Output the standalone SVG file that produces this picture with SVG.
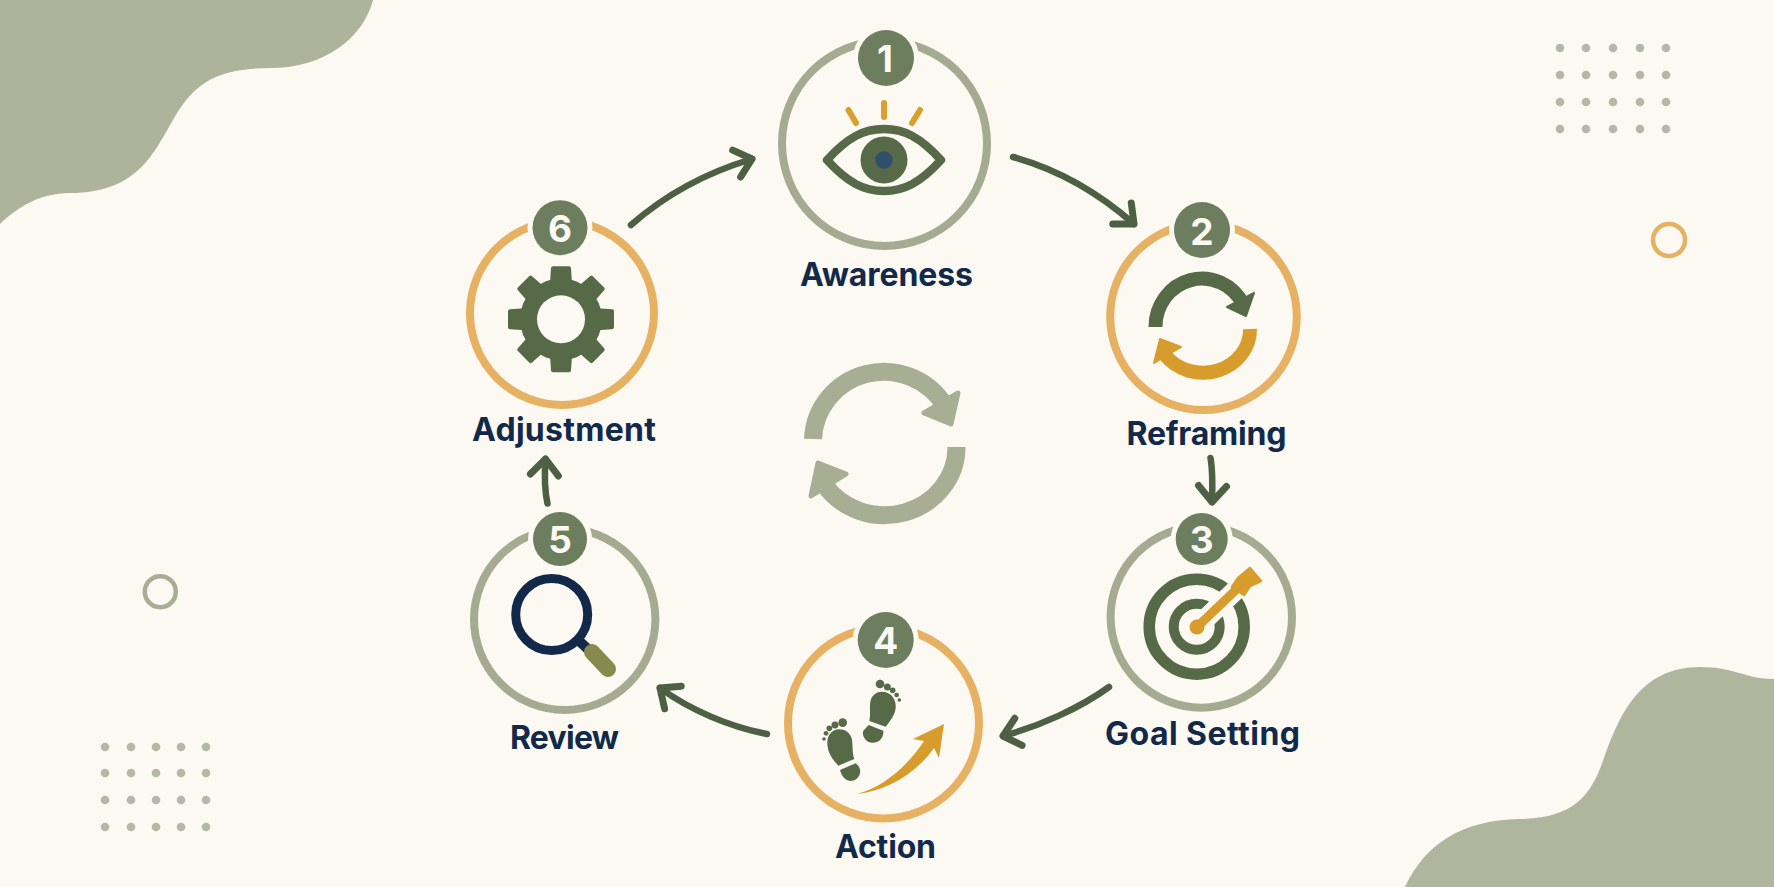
<svg xmlns="http://www.w3.org/2000/svg" width="1774" height="887" viewBox="0 0 1774 887">
<style>
.ring{fill:none;stroke-width:8}
.sage{stroke:#a5ab91}
.amber{stroke:#e6b162}
.halo{fill:#fcf9f3}
.badge{fill:#6c7e5d}
.num{font-family:"Inter","Liberation Sans",sans-serif;font-weight:700;font-size:37px;fill:#fbf9f3;text-anchor:middle}
.label{font-family:"Inter","Liberation Sans",sans-serif;font-weight:700;font-size:32px;fill:#12294a;text-anchor:middle}
.g{fill:#566a48}
.o{fill:#d79c2b}
.dot{fill:#b4b8a6}
.conn{fill:none;stroke:#4e6044;stroke-width:6.5;stroke-linecap:round;marker-end:url(#head)}
.bigarc{fill:none;stroke:#a7ae93;stroke-width:18}
.bighead{fill:#a7ae93;stroke:#a7ae93;stroke-width:5;stroke-linejoin:round}
</style>
<defs>
<marker id="head" markerUnits="userSpaceOnUse" markerWidth="50" markerHeight="50" viewBox="-30 -25 50 50" refX="0" refY="0" orient="auto">
<path d="M-16 -14L0 0L-16 14" fill="none" stroke="#4e6044" stroke-width="7" stroke-linecap="round" stroke-linejoin="round"/>
</marker>
<path id="tooth" d="M-11 -36L-10 -51Q-10 -53 -8 -53H8Q10 -53 10 -51L11 -36Z"/>
</defs>
<rect width="1774" height="887" fill="#fcf9f3"/>
<g id="background">
<path d="M0 0H373C363 38 325 68 270 68C215 68 195 85 177 113C155 150 140 193 70 193C40 193 18 207 0 224Z" fill="#aeb39c"/>
<path d="M1774 887V679C1745 679 1735 667 1700 667C1640 667 1620 715 1605 755C1592 795 1575 818 1520 819C1460 820 1425 845 1405 887Z" fill="#b0b59e"/>
<g class="dot">
<circle cx="1560" cy="48" r="4.3"/><circle cx="1586" cy="48" r="4.3"/><circle cx="1613" cy="48" r="4.3"/><circle cx="1640" cy="48" r="4.3"/><circle cx="1666" cy="48" r="4.3"/>
<circle cx="1560" cy="75" r="4.3"/><circle cx="1586" cy="75" r="4.3"/><circle cx="1613" cy="75" r="4.3"/><circle cx="1640" cy="75" r="4.3"/><circle cx="1666" cy="75" r="4.3"/>
<circle cx="1560" cy="102" r="4.3"/><circle cx="1586" cy="102" r="4.3"/><circle cx="1613" cy="102" r="4.3"/><circle cx="1640" cy="102" r="4.3"/><circle cx="1666" cy="102" r="4.3"/>
<circle cx="1560" cy="129" r="4.3"/><circle cx="1586" cy="129" r="4.3"/><circle cx="1613" cy="129" r="4.3"/><circle cx="1640" cy="129" r="4.3"/><circle cx="1666" cy="129" r="4.3"/>
<circle cx="105" cy="747" r="4.3"/><circle cx="131" cy="747" r="4.3"/><circle cx="156" cy="747" r="4.3"/><circle cx="181" cy="747" r="4.3"/><circle cx="206" cy="747" r="4.3"/>
<circle cx="105" cy="773" r="4.3"/><circle cx="131" cy="773" r="4.3"/><circle cx="156" cy="773" r="4.3"/><circle cx="181" cy="773" r="4.3"/><circle cx="206" cy="773" r="4.3"/>
<circle cx="105" cy="800" r="4.3"/><circle cx="131" cy="800" r="4.3"/><circle cx="156" cy="800" r="4.3"/><circle cx="181" cy="800" r="4.3"/><circle cx="206" cy="800" r="4.3"/>
<circle cx="105" cy="827" r="4.3"/><circle cx="131" cy="827" r="4.3"/><circle cx="156" cy="827" r="4.3"/><circle cx="181" cy="827" r="4.3"/><circle cx="206" cy="827" r="4.3"/>
</g>
<circle cx="1669" cy="240" r="16" fill="none" stroke="#e6b162" stroke-width="4.5"/>
<circle cx="160.3" cy="591.7" r="15.5" fill="none" stroke="#a7ae93" stroke-width="4.5"/>
</g>
<g id="center-cycle">
<path class="bigarc" d="M813 439A71 70 0 0 1 945 406"/>
<path class="bighead" d="M958 393L951 424L924 413Z"/>
<path class="bigarc" d="M956.5 447A72 68 0 0 1 824 484"/>
<path class="bighead" d="M818 463L846 474L811 496Z"/>
</g>
<g id="connectors">
<path class="conn" d="M1013 157C1060 170 1100 194 1134 224"/>
<path class="conn" d="M1210.5 458C1213 472 1212.5 487 1212 502"/>
<path class="conn" d="M1109 687C1080 708 1040 726 1003 736"/>
<path class="conn" d="M767 734C730 727 690 710 660 688"/>
<path class="conn" d="M547.5 503.5C544 488 544.5 473 545.5 459"/>
<path class="conn" d="M631 225C665 195 705 173 752 159"/>
</g>
<g id="node-1">
<circle class="ring sage" cx="884.5" cy="143.5" r="102.5"/>
<circle class="halo" cx="886" cy="58" r="33"/>
<circle class="badge" cx="886" cy="58" r="28"/>
<text class="num" x="885" y="72">1</text>
<path d="M827 160C848 137 864 129 884 129C904 129 920 137 941 160C920 183 904 191 884 191C864 191 848 183 827 160Z" fill="none" stroke="#566a48" stroke-width="8.5" stroke-linejoin="round"/>
<circle class="g" cx="884" cy="160" r="23.5"/>
<circle cx="884" cy="160" r="8.7" fill="#2f4f6a"/>
<path d="M884 103V117M848.5 110L856 123M920 110L912 123" fill="none" stroke="#d9a02f" stroke-width="6" stroke-linecap="round"/>
<text class="label" x="886.5" y="286" textLength="173">Awareness</text>
</g>
<g id="node-2">
<circle class="ring amber" cx="1203.5" cy="316.7" r="93.3"/>
<circle class="halo" cx="1202" cy="230" r="33"/>
<circle class="badge" cx="1202" cy="230" r="28"/>
<text class="num" x="1202" y="245">2</text>
<path d="M1155.5 327A46.5 48 0 0 1 1243 304" fill="none" stroke="#566a48" stroke-width="14"/>
<path class="g" stroke="#566a48" stroke-width="2" stroke-linejoin="round" d="M1254 293L1246 316L1227 307Z"/>
<path d="M1250 329A47 43 0 0 1 1165 355" fill="none" stroke="#d79c2b" stroke-width="14"/>
<path class="o" stroke="#d79c2b" stroke-width="2" stroke-linejoin="round" d="M1160 339L1181 347L1154 363Z"/>
<text class="label" x="1206.5" y="445" textLength="160">Reframing</text>
</g>
<g id="node-3">
<circle class="ring sage" cx="1201.3" cy="617" r="90.7"/>
<circle class="halo" cx="1201.7" cy="539" r="31"/>
<circle class="badge" cx="1201.7" cy="539" r="26"/>
<text class="num" x="1201.7" y="553">3</text>
<circle cx="1196.7" cy="626.7" r="47.5" fill="none" stroke="#566a48" stroke-width="11.5"/>
<circle cx="1196.7" cy="626.7" r="23" fill="none" stroke="#566a48" stroke-width="10"/>
<path d="M1197 627L1240 586" fill="none" stroke="#fcf9f3" stroke-width="20"/>
<path d="M1197 627L1240 586" fill="none" stroke="#d79c2b" stroke-width="9"/>
<circle class="o" cx="1197" cy="627" r="7.5"/>
<path class="o" stroke="#d79c2b" stroke-width="2.5" stroke-linejoin="round" d="M1250 568L1261 581L1250 586L1244 595L1232 587L1238 578Z"/>
<text class="label" x="1202.5" y="745" textLength="195">Goal Setting</text>
</g>
<g id="node-4">
<circle class="ring amber" cx="883.5" cy="723" r="95.5"/>
<circle class="halo" cx="885.7" cy="640" r="33"/>
<circle class="badge" cx="885.7" cy="640" r="28"/>
<text class="num" x="885.7" y="654">4</text>
<g class="g" transform="translate(770 610) scale(.3333)">
<path d="M335 245C365 245 380 270 377 295C375 315 360 335 347 350L298 333C303 310 298 295 301 275C305 255 320 245 335 245Z"/>
<path d="M296 345L340 362C342 385 325 400 305 398C285 396 275 375 280 362Z"/>
<circle cx="330" cy="222" r="13"/><circle cx="352" cy="231" r="10.5"/><circle cx="368" cy="241" r="8.5"/><circle cx="380" cy="255" r="7"/><circle cx="388" cy="270" r="5.5"/>
<path d="M208 358C180 358 168 385 173 410C177 435 190 450 205 467L253 447C245 425 250 405 245 385C240 368 225 358 208 358Z"/>
<path d="M210 480L257 460C274 472 276 495 258 508C240 520 218 510 210 480Z"/>
<circle cx="218" cy="338" r="13"/><circle cx="195" cy="345" r="10.5"/><circle cx="178" cy="355" r="8.5"/><circle cx="168" cy="370" r="7"/><circle cx="162" cy="387" r="5.5"/>
</g>
<path class="o" d="M857 794C880 788 905 770 924 741L913 739L944 724L939 758L934 748C915 775 885 791 857 794Z"/>
<text class="label" x="885.5" y="858" textLength="101">Action</text>
</g>
<g id="node-5">
<circle class="ring sage" cx="564.7" cy="619.3" r="90.7"/>
<circle class="halo" cx="560" cy="539" r="32"/>
<circle class="badge" cx="560" cy="539" r="27"/>
<text class="num" x="560" y="553">5</text>
<circle cx="551.7" cy="614.5" r="36" fill="none" stroke="#12294a" stroke-width="9"/>
<path d="M578 640L590 651" fill="none" stroke="#12294a" stroke-width="10"/>
<path d="M592 652L608 669" fill="none" stroke="#868b4d" stroke-width="16" stroke-linecap="round"/>
<text class="label" x="564.5" y="749" textLength="109">Review</text>
</g>
<g id="node-6">
<circle class="ring amber" cx="562" cy="313" r="92"/>
<circle class="halo" cx="560" cy="227.7" r="32.5"/>
<circle class="badge" cx="560" cy="227.7" r="27.5"/>
<text class="num" x="560" y="242">6</text>
<g class="g" transform="translate(561 319.3)">
<circle r="41"/>
<use href="#tooth"/>
<use href="#tooth" transform="rotate(45)"/>
<use href="#tooth" transform="rotate(90)"/>
<use href="#tooth" transform="rotate(135)"/>
<use href="#tooth" transform="rotate(180)"/>
<use href="#tooth" transform="rotate(225)"/>
<use href="#tooth" transform="rotate(270)"/>
<use href="#tooth" transform="rotate(315)"/>
<circle r="24" fill="#fcf9f3"/>
</g>
<text class="label" x="564" y="441" textLength="184">Adjustment</text>
</g>
</svg>
